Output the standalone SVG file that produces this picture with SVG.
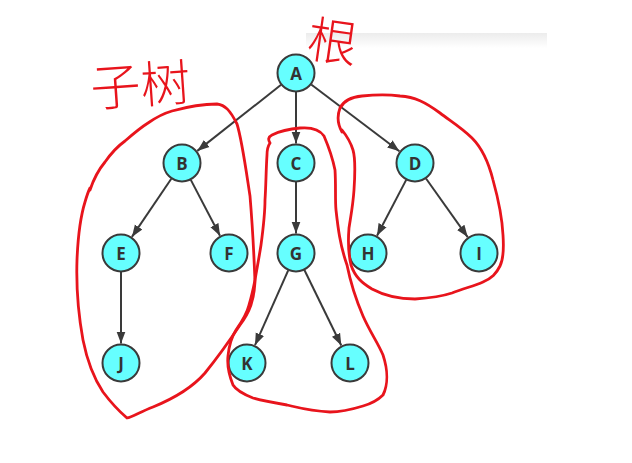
<svg xmlns="http://www.w3.org/2000/svg" width="632" height="463" viewBox="0 0 632 463">
<style>
.node circle{fill:#66ffff;stroke:#3a3a3a;stroke-width:2}
.node text{font-family:"Open Sans","Liberation Sans",sans-serif;font-weight:bold;font-size:17px;fill:#333;text-anchor:middle;dominant-baseline:central}
.edge{stroke:#3a3a3a;stroke-width:2;fill:none;marker-end:url(#arr)}
.loop{fill:none;stroke:#e8141c;stroke-width:2.8;stroke-linecap:round;stroke-linejoin:round}
.hand{font-family:"Noto Sans CJK SC",sans-serif;fill:#e8141c;font-weight:300}
</style>
<defs>
<marker id="arr" markerUnits="userSpaceOnUse" markerWidth="12" markerHeight="10" refX="12" refY="5" orient="auto">
<path d="M0,0.5 L12,5 L0,9.5 z" fill="#3a3a3a"/>
</marker>
<linearGradient id="band" x1="0" y1="0" x2="0" y2="1">
<stop offset="0" stop-color="#ececec"/>
<stop offset="1" stop-color="#ffffff"/>
</linearGradient>
</defs>
<rect width="632" height="463" fill="#fff"/>
<rect x="306" y="33" width="241" height="15" fill="url(#band)"/>
<g id="connectors">
<line class="edge" x1="281.1" y1="84.8" x2="197.3" y2="150.9"/>
<line class="edge" x1="296" y1="92" x2="296" y2="143.5"/>
<line class="edge" x1="311.2" y1="84.5" x2="399.4" y2="151.2"/>
<line class="edge" x1="171.3" y1="178.7" x2="131.9" y2="236.9"/>
<line class="edge" x1="190.8" y1="179.9" x2="220" y2="235.7"/>
<line class="edge" x1="296" y1="182" x2="296" y2="233.5"/>
<line class="edge" x1="406.2" y1="179.9" x2="377" y2="235.7"/>
<line class="edge" x1="426" y1="178.5" x2="467.7" y2="237.1"/>
<line class="edge" x1="121" y1="272" x2="121" y2="343.5"/>
<line class="edge" x1="288.2" y1="270.3" x2="255" y2="345.2"/>
<line class="edge" x1="304.4" y1="270" x2="341.3" y2="345.5"/>
</g>
<g id="A" class="node"><circle cx="296" cy="73" r="18.5"/><text x="296" y="73">A</text></g>
<g id="B" class="node"><circle cx="182" cy="163" r="18.5"/><text x="182" y="163">B</text></g>
<g id="C" class="node"><circle cx="296" cy="163" r="18.5"/><text x="296" y="163">C</text></g>
<g id="D" class="node"><circle cx="415" cy="163" r="18.5"/><text x="415" y="163">D</text></g>
<g id="E" class="node"><circle cx="121" cy="253" r="18.5"/><text x="121" y="253">E</text></g>
<g id="F" class="node"><circle cx="229" cy="253" r="18.5"/><text x="229" y="253">F</text></g>
<g id="G" class="node"><circle cx="296" cy="253" r="18.5"/><text x="296" y="253">G</text></g>
<g id="H" class="node"><circle cx="368" cy="253" r="18.5"/><text x="368" y="253">H</text></g>
<g id="I" class="node"><circle cx="479" cy="253" r="18.5"/><text x="479" y="253">I</text></g>
<g id="J" class="node"><circle cx="121" cy="363" r="18.5"/><text x="121" y="363">J</text></g>
<g id="K" class="node"><circle cx="247" cy="363" r="18.5"/><text x="247" y="363">K</text></g>
<g id="L" class="node"><circle cx="350" cy="363" r="18.5"/><text x="350" y="363">L</text></g>
<g id="annotations">
<path class="loop" d="M90,190 C95,175 100,168 105,162 C112,152 118,146 125,141 C133,134 140,128 148,123 C158,116 165,113 172,111 C190,106 205,104 217,104 C225,105 230,110 237,124 C242,140 246,170 250,196 C252,220 254,255 255,282 C254,300 250,312 240,325 C230,340 222,352 205,373 C192,388 175,398 153,407 C140,412 132,417 127,418 C120,412 112,404 103,392 C95,380 88,365 83,340 C79,318 76,290 77,260 C78,235 81,215 85,202 C87,195 89,190 90,188"/>
<path class="loop" d="M270,143 C268,140 268,137 272,135 C280,131 288,129 300,128 C312,127 320,130 324,136 C330,150 333,160 335,170 C336,185 335,200 336,210 C338,228 340,245 347,265 C351,285 357,302 363,316 C370,332 378,343 383,355 C388,370 388,385 383,395 C376,402 370,404 363,406 C350,410 340,412 330,412 C310,411 300,408 287,405 C270,402 260,400 253,398 C243,394 236,390 233,385 C229,375 227,365 228,356 C229,345 231,338 236,330 C243,320 247,313 249,305 C252,295 253,290 255,280 C257,268 259,258 261,245 C263,230 265,215 265,200 C266,185 266,170 267,155 C267,150 268,146 270,143"/>
<path class="loop" d="M342,132 C338,125 337,116 340,108 C344,100 352,97 362,96 C372,95 385,94 400,96 C415,97 425,102 440,113 C452,122 462,128 472,138 C482,148 488,160 493,180 C498,198 502,215 503,235 C504,250 503,260 500,266 C496,274 492,278 483,282 C474,286 465,288 452,293 C440,297 430,298 415,299 C400,299 385,296 372,289 C362,283 355,277 351,265 C348,252 348,240 349,228 C351,215 353,205 354,190 C355,175 356,160 353,150 C350,140 346,135 342,130"/>
<text class="hand" x="90" y="104" font-size="50" transform="rotate(-4 132 80)">子树</text>
<text class="hand" x="308" y="60" font-size="50" transform="rotate(8 333 38)">根</text>
</g>
</svg>
